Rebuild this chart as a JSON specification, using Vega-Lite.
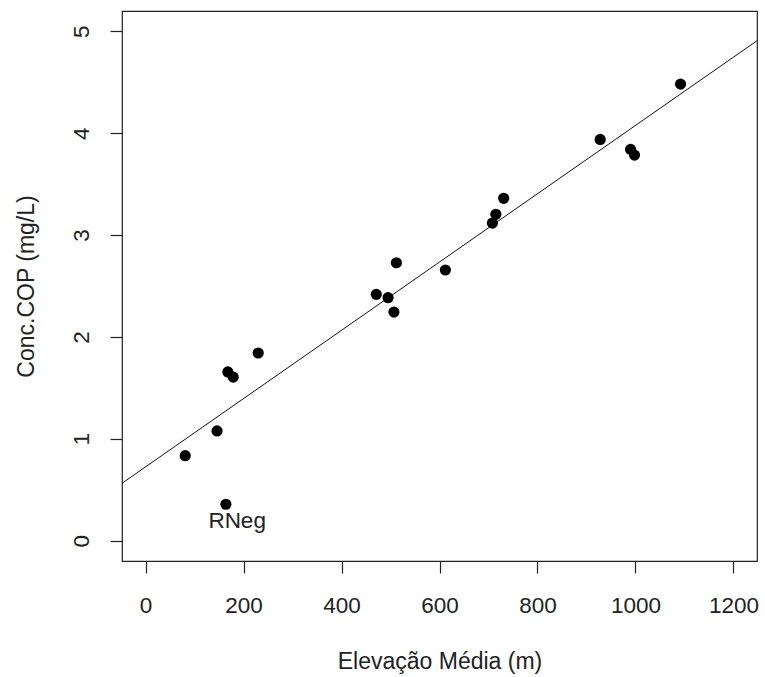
{
  "$schema": "https://vega.github.io/schema/vega-lite/v6.json",
  "width": 635,
  "height": 550,
  "autosize": {"type": "none"},
  "padding": {"left": 122, "top": 11, "right": 8, "bottom": 116},
  "background": "white",
  "config": {
    "view": {"stroke": "#222", "strokeWidth": 1.2, "fill": "white"},
    "font": "Liberation Sans",
    "axis": {
      "domain": false,
      "grid": false,
      "tickColor": "#222",
      "tickSize": 12,
      "tickWidth": 1.2,
      "labelFont": "Liberation Sans",
      "labelFontSize": 22.5,
      "labelColor": "#222",
      "titleFont": "Liberation Sans",
      "titleFontSize": 23,
      "titleFontWeight": "normal",
      "titleColor": "#222"
    }
  },
  "datasets": {
    "pts": [
      {"elev": 81, "conc": 0.834},
      {"elev": 146, "conc": 1.077},
      {"elev": 164, "conc": 0.357},
      {"elev": 168, "conc": 1.656},
      {"elev": 179, "conc": 1.605},
      {"elev": 230, "conc": 1.842},
      {"elev": 471, "conc": 2.418},
      {"elev": 495, "conc": 2.385},
      {"elev": 507, "conc": 2.244},
      {"elev": 512, "conc": 2.728},
      {"elev": 612, "conc": 2.657},
      {"elev": 708, "conc": 3.118},
      {"elev": 715, "conc": 3.204},
      {"elev": 731, "conc": 3.361},
      {"elev": 928, "conc": 3.939},
      {"elev": 990, "conc": 3.841},
      {"elev": 998, "conc": 3.785},
      {"elev": 1092, "conc": 4.482}
    ],
    "fit": [
      {"elev": -48, "conc": 0.563},
      {"elev": 1248, "conc": 4.908}
    ],
    "lab": [
      {"elev": 187, "conc": 0.122, "text": "RNeg"}
    ]
  },
  "encoding": {
    "x": {
      "field": "elev",
      "type": "quantitative",
      "scale": {"domain": [-48, 1248], "nice": false, "zero": false},
      "axis": {
        "title": "Elevação Média (m)",
        "values": [0, 200, 400, 600, 800, 1000, 1200],
        "format": "d",
        "labelBaseline": "alphabetic",
        "labelPadding": 39,
        "titleBaseline": "alphabetic",
        "titleY": 107
      }
    },
    "y": {
      "field": "conc",
      "type": "quantitative",
      "scale": {"domain": [-0.2, 5.2], "nice": false, "zero": false},
      "axis": {
        "title": "Conc.COP (mg/L)",
        "values": [0, 1, 2, 3, 4, 5],
        "format": "d",
        "labelAngle": 270,
        "labelAlign": "center",
        "labelBaseline": "alphabetic",
        "labelPadding": 22,
        "titleAngle": 270,
        "titleBaseline": "alphabetic",
        "titleAlign": "center",
        "titleX": -89,
        "titleY": 275
      }
    }
  },
  "layer": [
    {
      "data": {"name": "fit"},
      "mark": {"type": "line", "color": "#111", "strokeWidth": 1, "clip": true},
      "encoding": {}
    },
    {
      "data": {"name": "pts"},
      "mark": {"type": "circle", "color": "#000", "opacity": 1, "size": 125}
    },
    {
      "data": {"name": "lab"},
      "mark": {"type": "text", "fontSize": 22.5, "color": "#222", "align": "center", "baseline": "alphabetic"},
      "encoding": {"text": {"field": "text"}}
    }
  ]
}
